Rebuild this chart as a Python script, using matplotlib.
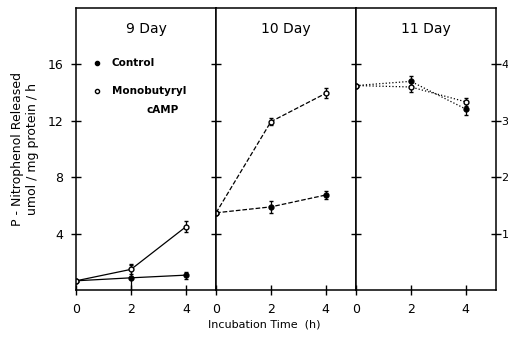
import numpy as np
import matplotlib
matplotlib.use("Agg")
import matplotlib.pyplot as plt

# --- dados ---
tempo = [0, 2, 4]
dias = ['9 Day', '10 Day', '11 Day']

controle = [[0.66, 0.87, 1.06],
            [5.48, 5.90, 6.74],
            [14.5, 14.8, 12.84]]
controle_err = [[0.0, 0.9, 0.25],
                [0.0, 0.4, 0.25],
                [0.0, 0.35, 0.4]]

mono = [[0.66, 1.47, 4.49],
        [5.48, 11.94, 13.95],
        [14.5, 14.4, 13.35]]
mono_err = [[0.0, 0.35, 0.4],
            [0.0, 0.25, 0.35],
            [0.0, 0.35, 0.3]]

estilos = ['-', '--', ':']
y_ticks = [4, 8, 12, 16]
y_direita = ['1', '2', '3', '4']

plt.rcParams['font.family'] = 'DejaVu Sans'
fig, axs = plt.subplots(1, 3, figsize=(5.08, 3.47), dpi=100, sharey=True)
fig.subplots_adjust(left=0.150, right=0.976, top=0.977, bottom=0.164, wspace=0)

for i, ax in enumerate(axs):
    ax.errorbar(tempo, controle[i], yerr=controle_err[i], fmt='o', ls=estilos[i],
                color='black', mfc='black', ms=3.5, lw=0.9, elinewidth=0.9,
                capsize=1.5, label='Control')
    ax.errorbar(tempo, mono[i], yerr=mono_err[i], fmt='o', ls=estilos[i],
                color='black', mfc='white', ms=3.5, lw=0.9, elinewidth=0.9,
                capsize=1.5, label='Monobutyryl')
    ax.set_xlim(0, 5.1)
    ax.set_ylim(0, 20)
    ax.set_xticks(tempo)
    ax.set_yticks(y_ticks)
    ax.tick_params(direction='inout', length=7, width=1, labelsize=9, pad=6)
    ax.text(0.5, 0.925, dias[i], transform=ax.transAxes, ha='center', va='center', fontsize=10)
    for s in ax.spines.values():
        s.set_linewidth(1.1)
    if i > 0:
        ax.tick_params(axis='y', labelleft=False)

# eixo da direita (escala secundária)
axd = axs[2].twinx()
axd.set_ylim(0, 20)
axd.set_yticks(y_ticks)
axd.set_yticklabels(y_direita)
axd.tick_params(direction='inout', length=7, width=1, labelsize=8, pad=0.5)
for s in axd.spines.values():
    s.set_visible(False)

# legenda desenhada à mão
ax = axs[0]
ax.plot([0.75], [16.1], 'o', color='black', ms=3)
ax.text(1.3, 16.1, 'Control', fontsize=7.5, va='center', fontweight='bold')
ax.plot([0.75], [14.1], 'o', color='black', mfc='white', ms=3)
ax.text(1.3, 14.1, 'Monobutyryl', fontsize=7.5, va='center', fontweight='bold')
ax.text(3.75, 12.8, 'cAMP', fontsize=7.5, va='center', ha='right', fontweight='bold')

axs[0].set_ylabel('P - Nitrophenol Released\numol / mg protein / h', fontsize=9, labelpad=6)
fig.text(0.52, 0.065, 'Incubation Time  (h)', ha='center', va='center', fontsize=8)

fig.savefig('out.png', dpi=100)
